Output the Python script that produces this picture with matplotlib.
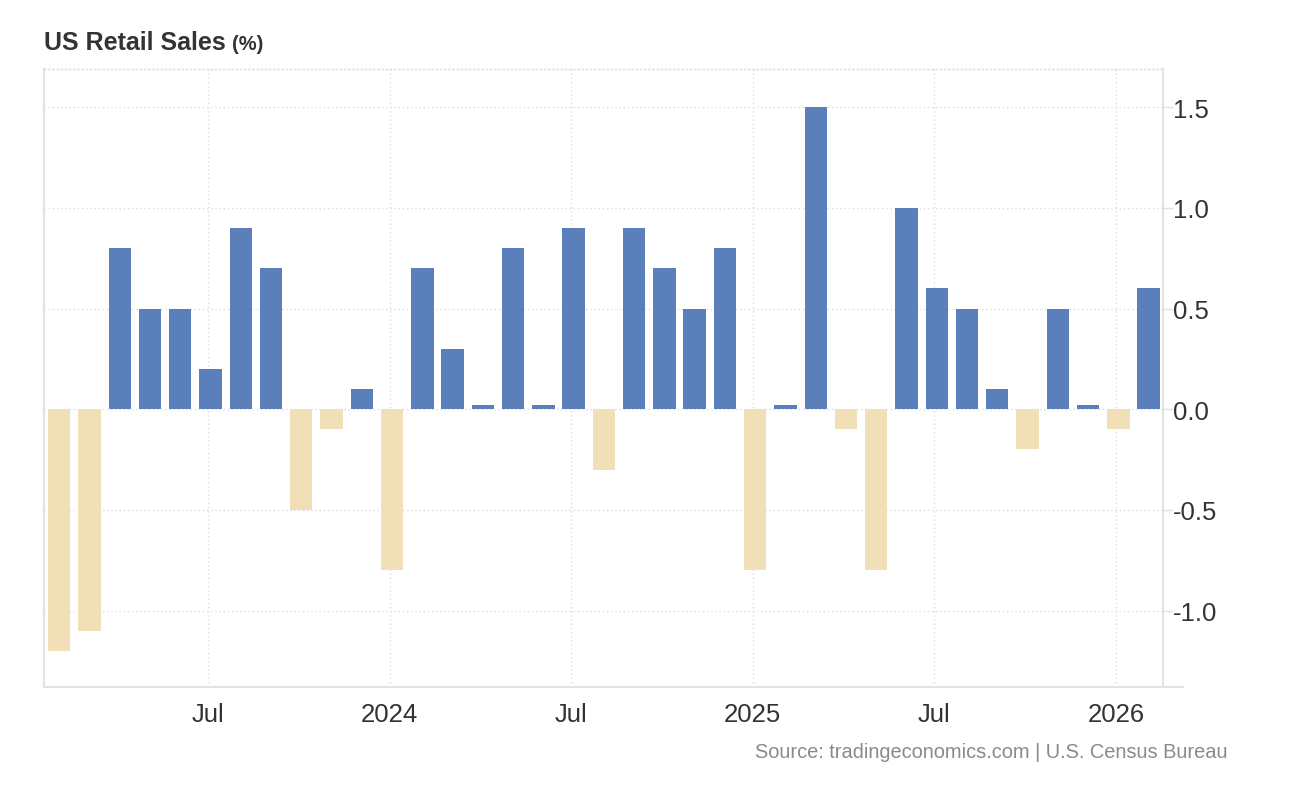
import matplotlib
matplotlib.use("Agg")
import matplotlib.pyplot as plt

plt.rcParams["font.family"] = ["Liberation Sans", "DejaVu Sans"]

# monthly change, Feb 2023 .. Feb 2026
months = ["2023-02", "2023-03", "2023-04", "2023-05", "2023-06", "2023-07",
          "2023-08", "2023-09", "2023-10", "2023-11", "2023-12", "2024-01",
          "2024-02", "2024-03", "2024-04", "2024-05", "2024-06", "2024-07",
          "2024-08", "2024-09", "2024-10", "2024-11", "2024-12", "2025-01",
          "2025-02", "2025-03", "2025-04", "2025-05", "2025-06", "2025-07",
          "2025-08", "2025-09", "2025-10", "2025-11", "2025-12", "2026-01",
          "2026-02"]
values = [-1.2, -1.1, 0.8, 0.5, 0.5, 0.2, 0.9, 0.7, -0.5, -0.1, 0.1, -0.8,
          0.7, 0.3, 0.02, 0.8, 0.02, 0.9, -0.3, 0.9, 0.7, 0.5, 0.8, -0.8,
          0.02, 1.5, -0.1, -0.8, 1.0, 0.6, 0.5, 0.1, -0.2, 0.5, 0.02, -0.1,
          0.6]
tick_months = ["2023-07", "2024-01", "2024-07", "2025-01", "2025-07", "2026-01"]
tick_labels = ["Jul", "2024", "Jul", "2025", "Jul", "2026"]
y_ticks = [-1.0, -0.5, 0.0, 0.5, 1.0, 1.5]

POS = "#5b7fba"
NEG = "#f0dfb7"
GRID = "#dcdcdc"

fig = plt.figure(figsize=(12.96, 8.12), dpi=100)
ax = fig.add_axes([0.034, 0.1527, 0.863, 0.761])

x = list(range(len(months)))
colors = [POS if v >= 0 else NEG for v in values]
ax.bar(x, values, width=0.74, color=colors, zorder=3)

ax.set_xlim(-0.5, 36.46)
ax.set_ylim(-1.38, 1.69)

ax.set_xticks([months.index(m) - 0.08 for m in tick_months])
ax.set_xticklabels(tick_labels)
ax.set_yticks(y_ticks)
ax.set_yticklabels([f"{t:.1f}" for t in y_ticks])

ax.yaxis.tick_right()
ax.tick_params(axis="y", length=7.5, width=1, color="#e0e0e0", pad=0,
               labelsize=18.5, labelcolor="#333333")
ax.tick_params(axis="x", length=0, pad=11, labelsize=18.5,
               labelcolor="#333333")

ax.grid(True, linestyle=(0, (1, 2)), color=GRID, linewidth=1, zorder=0)
ax.set_axisbelow(True)

for side in ["left", "right", "bottom"]:
    ax.spines[side].set_color("#e3e3e3")
    ax.spines[side].set_linewidth(1.5)
ax.spines["top"].set_linestyle((0, (1, 2)))
ax.spines["top"].set_color(GRID)
ax.spines["top"].set_linewidth(1)
ax.spines["bottom"].set_visible(False)
ax.plot([0, 1.018], [0, 0], transform=ax.transAxes, color="#e3e3e3",
        linewidth=1.5, clip_on=False, zorder=4)

fig.text(0.034, 0.938, "US Retail Sales", fontsize=18, fontweight="bold",
         color="#333333", va="baseline")
fig.text(0.179, 0.938, "(%)", fontsize=14.5, fontweight="bold",
         color="#333333", va="baseline")
fig.text(0.947, 0.067, "Source: tradingeconomics.com | U.S. Census Bureau",
         fontsize=14.4, color="#8a8a8a", ha="right", va="baseline")

fig.savefig("out.png", dpi=100, facecolor="white")
